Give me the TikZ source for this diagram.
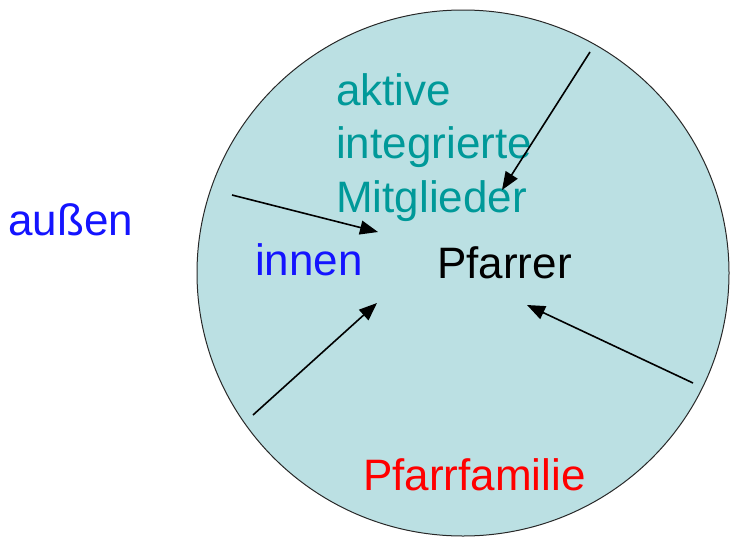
\documentclass[tikz,border=0pt]{standalone}
\usepackage{fontspec}
\setmainfont{Liberation Sans}
\usetikzlibrary{arrows.meta}
\definecolor{kreisfill}{RGB}{187,224,227}
\definecolor{kreisline}{RGB}{40,40,40}
\definecolor{kreisteal}{RGB}{0,153,153}
\definecolor{kreisblue}{RGB}{20,20,255}
\definecolor{kreisred}{RGB}{255,0,0}

\begin{document}
\begin{tikzpicture}[x=1pt,y=-1pt,
    txt/.style={inner sep=0pt,anchor=base west,font=\fontsize{44}{53.5}\selectfont},
    pfeil/.style={-{Triangle[length=18pt,width=14pt]},line width=1.6pt,black}]
  \useasboundingbox (0,0) rectangle (731,541);
  \draw[kreisline,fill=kreisfill,line width=1pt] (463,273) ellipse (266 and 263);
  % Beschriftungen
  \node[txt,kreisblue] (aussen) at (8,235) {außen};
  \node[txt,kreisblue] (innen) at (255,275) {innen};
  \node[txt] (pfarrer) at (437,278) {Pfarrer};
  \node[txt,kreisred] (familie) at (363,490) {Pfarrfamilie};
  \node[txt,kreisteal,align=left] (aktive) at (336,212) {aktive\\integrierte\\Mitglieder};
  % Pfeile von aussen nach innen
  \coordinate (a1) at (590,52);  \coordinate (e1) at (502,190);
  \coordinate (a2) at (232,195); \coordinate (e2) at (378,232);
  \coordinate (a3) at (253,415); \coordinate (e3) at (377,303);
  \coordinate (a4) at (693,383); \coordinate (e4) at (527,305);
  \foreach \i in {1,...,4} \draw[pfeil] (a\i) -- (e\i);
\end{tikzpicture}
\end{document}
